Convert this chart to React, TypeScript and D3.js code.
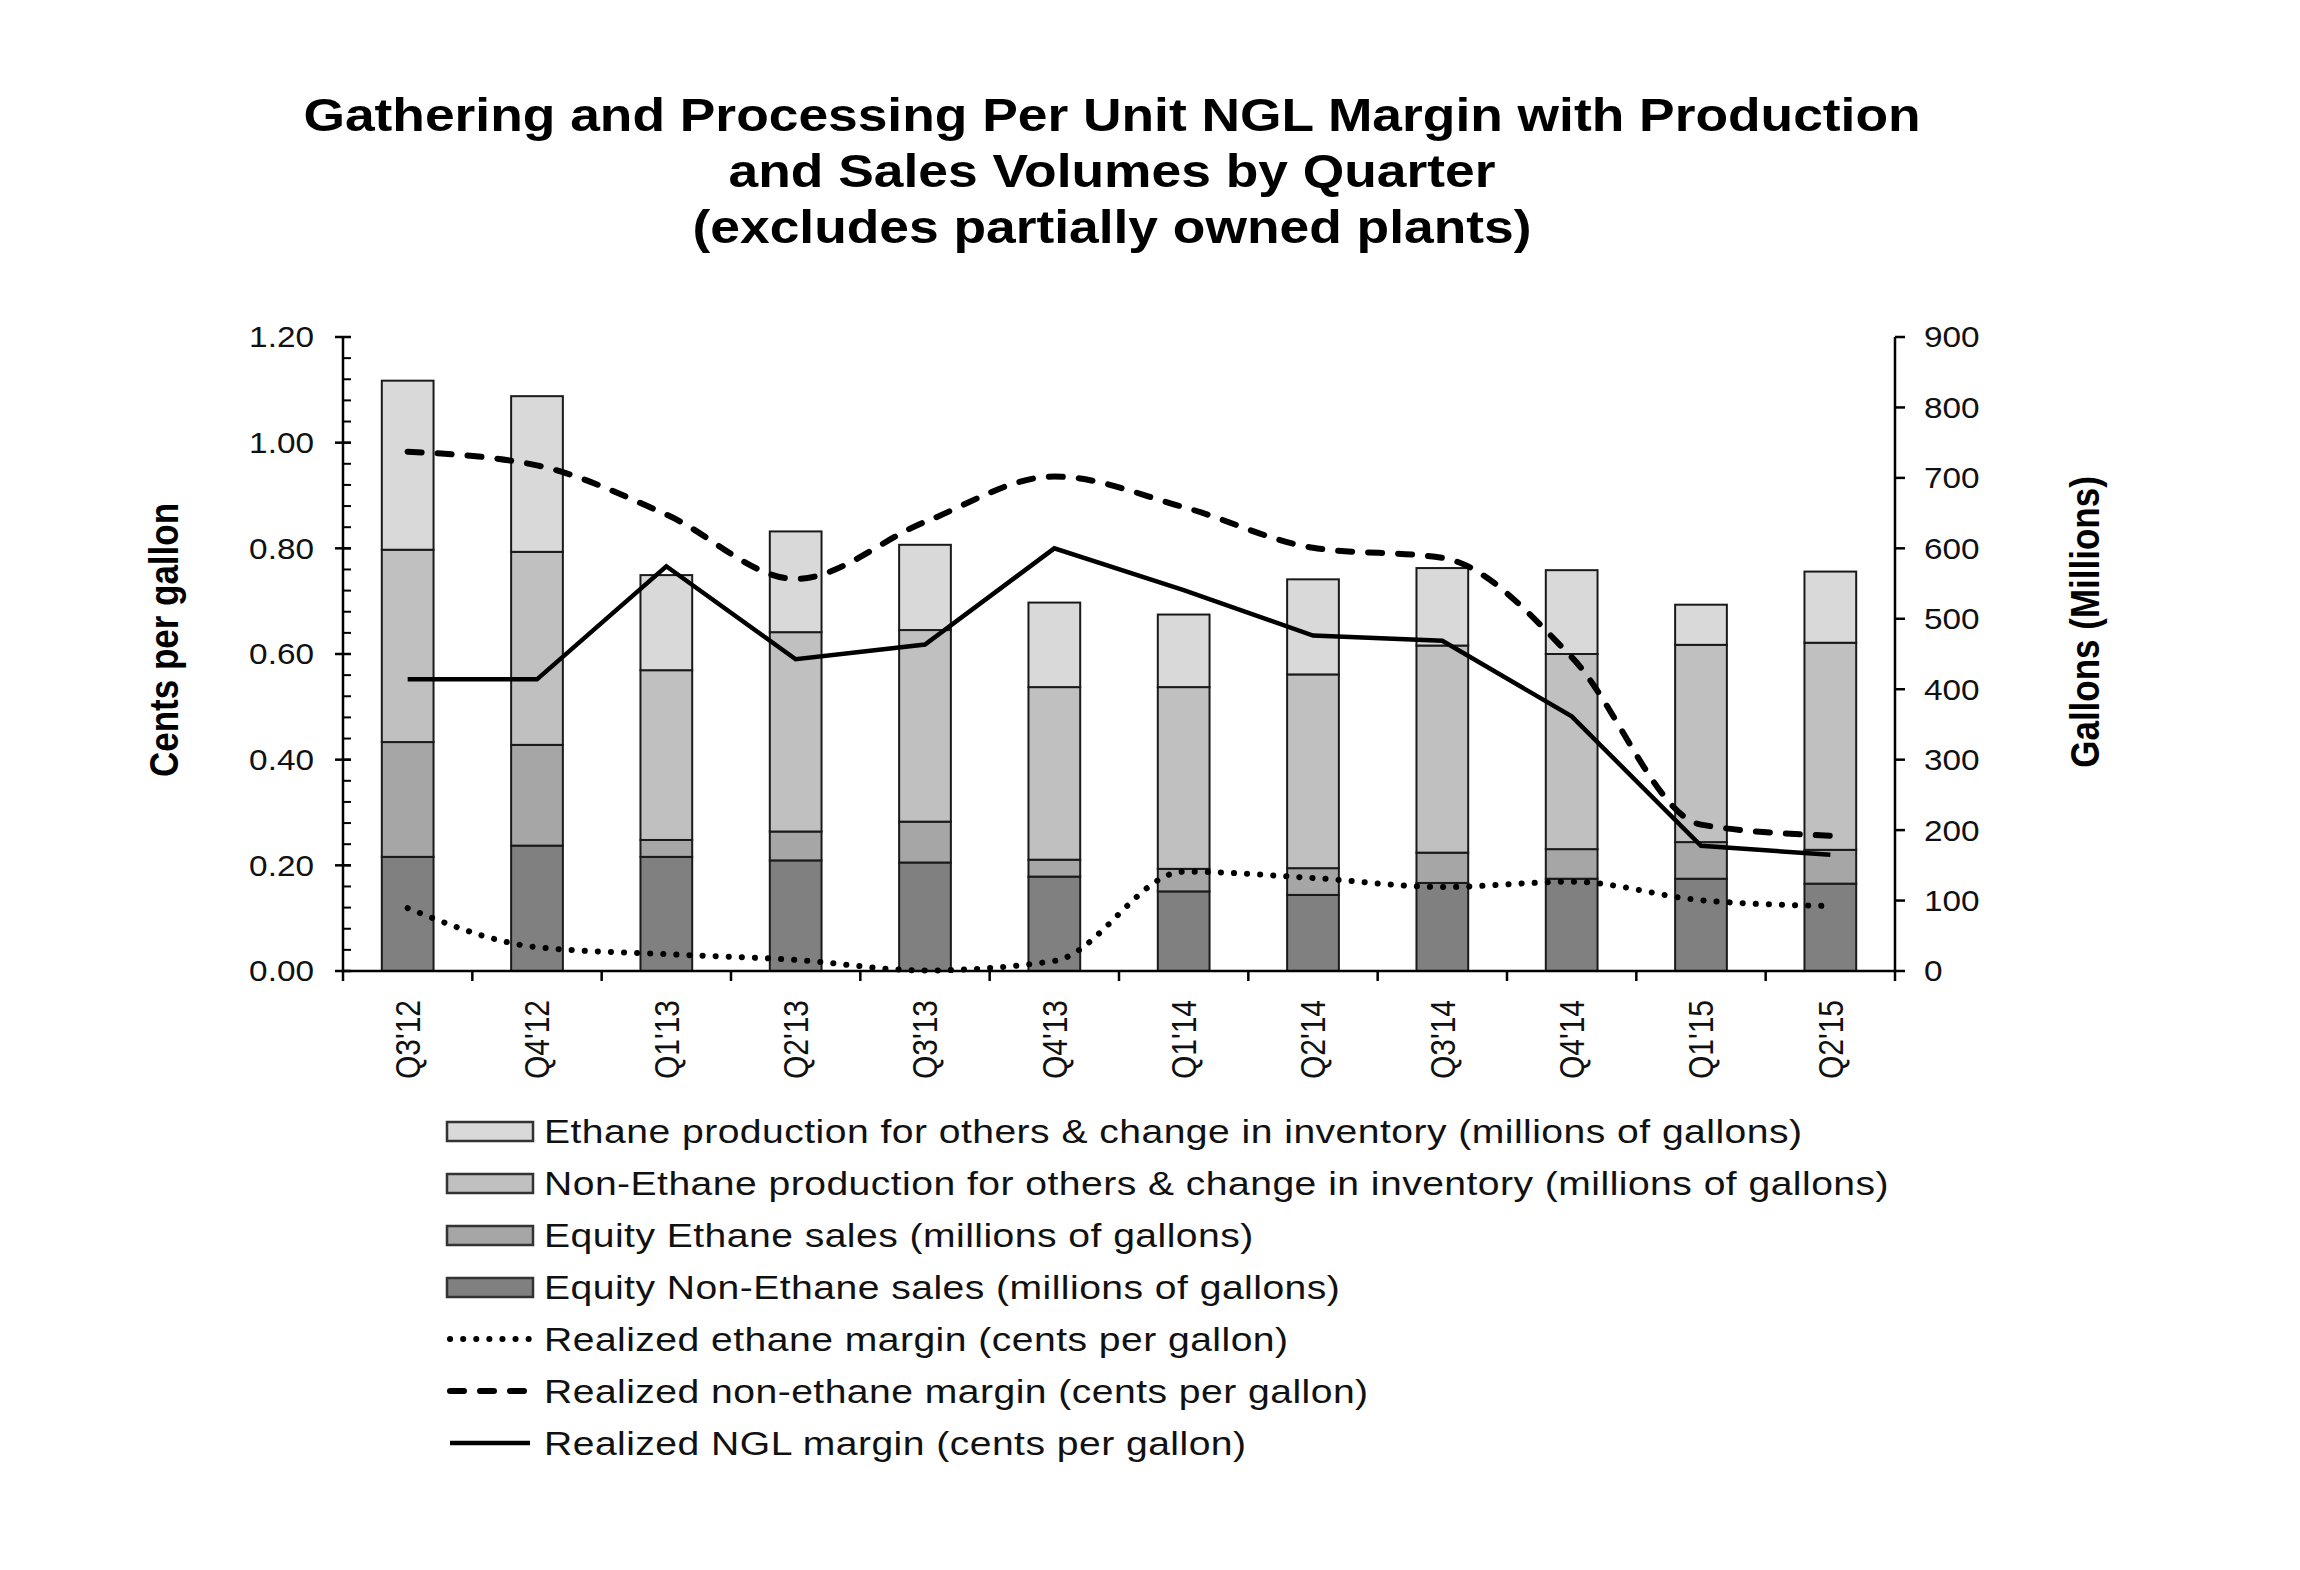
import { useEffect } from "react";
import * as d3 from "d3";

// quarters on the x axis
const quarters = ["Q3'12", "Q4'12", "Q1'13", "Q2'13", "Q3'13", "Q4'13", "Q1'14", "Q2'14", "Q3'14", "Q4'14", "Q1'15", "Q2'15"];

// stacked volumes, millions of gallons (bottom to top)
const equityNonEthane = [162, 178, 162, 157, 154, 134, 113, 108, 125, 131, 131, 124];
const equityEthane = [163, 143, 24, 41, 58, 24, 32, 38, 43, 42, 52, 48];
const nonEthaneOthers = [273, 274, 241, 283, 272, 245, 258, 275, 294, 277, 280, 294];
const ethaneOthers = [240, 221, 135, 143, 121, 120, 103, 135, 110, 119, 57, 101];

// margins, cents per gallon
const ethaneMargin = [0.119, 0.045, 0.032, 0.021, 0.001, 0.019, 0.188, 0.176, 0.159, 0.169, 0.134, 0.123];
const nonEthaneMargin = [0.983, 0.957, 0.864, 0.742, 0.85, 0.936, 0.878, 0.801, 0.782, 0.594, 0.277, 0.256];
const nglMargin = [0.552, 0.552, 0.766, 0.59, 0.618, 0.8, 0.721, 0.635, 0.625, 0.482, 0.237, 0.22];

const leftTicks = [0, 0.2, 0.4, 0.6, 0.8, 1.0, 1.2];
const rightTicks = [0, 100, 200, 300, 400, 500, 600, 700, 800, 900];

const barKeys = ["equityNonEthane", "equityEthane", "nonEthaneOthers", "ethaneOthers"];
const barColors: Record<string, string> = {
  equityNonEthane: "#808080",
  equityEthane: "#a6a6a6",
  nonEthaneOthers: "#c0c0c0",
  ethaneOthers: "#d9d9d9",
};

const legendBars = [
  { key: "ethaneOthers", label: "Ethane production for others & change in inventory (millions of gallons)" },
  { key: "nonEthaneOthers", label: "Non-Ethane production for others & change in inventory (millions of gallons)" },
  { key: "equityEthane", label: "Equity Ethane sales (millions of gallons)" },
  { key: "equityNonEthane", label: "Equity Non-Ethane sales (millions of gallons)" },
];

const FONT = "'Liberation Sans', Arial, Helvetica, sans-serif";
const SX = 1.15; // the source picture is stretched sideways

const W = 2300;
const H = 1570;
const left = 343;
const right = 1895;
const top = 337;
const bottom = 971;

export default function App() {
  useEffect(() => {
    document.body.style.margin = "0";
  }, []);

  const x = d3.scaleBand<string>().domain(quarters).range([left, right]).paddingInner(0.6).paddingOuter(0.3);
  const yL = d3.scaleLinear().domain([0, 1.2]).range([bottom, top]);
  const yR = d3.scaleLinear().domain([0, 900]).range([bottom, top]);

  const rows = quarters.map((q, i) => ({
    q,
    equityNonEthane: equityNonEthane[i],
    equityEthane: equityEthane[i],
    nonEthaneOthers: nonEthaneOthers[i],
    ethaneOthers: ethaneOthers[i],
  }));
  const stacked = d3.stack<any>().keys(barKeys)(rows);

  const cx = (i: number) => (x(quarters[i]) as number) + x.bandwidth() / 2;
  const smooth = d3.line<number>().x((_, i) => cx(i)).y((d) => yL(d)).curve(d3.curveMonotoneX);
  const straight = d3.line<number>().x((_, i) => cx(i)).y((d) => yL(d));

  const step = x.step();
  const boundaries = d3.range(quarters.length + 1).map((i) => left + i * step);
  const minorTicks = d3.range(31).map((i) => i * 0.04);

  const titleLines = [
    "Gathering and Processing Per Unit NGL Margin with Production",
    "and Sales Volumes by Quarter",
    "(excludes partially owned plants)",
  ];

  const legendX = 447;
  const legendTextX = 544;
  const legendBase = 1143;
  const legendStep = 52;

  const lineLegend = [
    { label: "Realized ethane margin (cents per gallon)", dash: "0.1 13", width: 6 },
    { label: "Realized non-ethane margin (cents per gallon)", dash: "14 16", width: 6 },
    { label: "Realized NGL margin (cents per gallon)", dash: "none", width: 4.5 },
  ];

  return (
    <svg width={W} height={H} viewBox={`0 0 ${W} ${H}`} style={{ display: "block", background: "#fff" }} fontFamily={FONT}>
      <rect width={W} height={H} fill="#fff" />

      {/* title */}
      {titleLines.map((t, i) => (
        <text
          key={t}
          transform={`translate(1112, ${131 + i * 56}) scale(1.16, 1)`}
          textAnchor="middle"
          fontSize={46}
          fontWeight="bold"
          fill="#000"
        >
          {t}
        </text>
      ))}

      {/* stacked bars */}
      {stacked.map((layer) => (
        <g key={layer.key}>
          {layer.map((d, i) => (
            <rect
              key={i}
              x={x(quarters[i])}
              y={yR(d[1])}
              width={x.bandwidth()}
              height={yR(d[0]) - yR(d[1])}
              fill={barColors[layer.key]}
              stroke="#1a1a1a"
              strokeWidth={2}
            />
          ))}
        </g>
      ))}

      {/* margin lines */}
      <path d={smooth(ethaneMargin) || ""} fill="none" stroke="#000" strokeWidth={6} strokeDasharray="0.1 13" strokeLinecap="round" />
      <path d={smooth(nonEthaneMargin) || ""} fill="none" stroke="#000" strokeWidth={6} strokeDasharray="14 16" strokeLinecap="round" />
      <path d={straight(nglMargin) || ""} fill="none" stroke="#000" strokeWidth={4.5} strokeLinejoin="miter" />

      {/* left axis */}
      <line x1={left} x2={left} y1={top} y2={bottom} stroke="#000" strokeWidth={2.5} />
      {minorTicks.map((v) => (
        <line key={`m${v}`} x1={left} x2={left + 8} y1={yL(v)} y2={yL(v)} stroke="#000" strokeWidth={2} />
      ))}
      {leftTicks.map((v) => (
        <g key={`l${v}`}>
          <line x1={left - 8} x2={left + 8} y1={yL(v)} y2={yL(v)} stroke="#000" strokeWidth={2.5} />
          <text transform={`translate(314, ${yL(v)}) scale(${SX}, 1)`} dy="0.36em" textAnchor="end" fontSize={29} fill="#111">
            {v.toFixed(2)}
          </text>
        </g>
      ))}

      {/* right axis */}
      <line x1={right} x2={right} y1={top} y2={bottom} stroke="#000" strokeWidth={2.5} />
      {rightTicks.map((v) => (
        <g key={`r${v}`}>
          <line x1={right} x2={right + 10} y1={yR(v)} y2={yR(v)} stroke="#000" strokeWidth={2.5} />
          <text transform={`translate(1924, ${yR(v)}) scale(${SX}, 1)`} dy="0.36em" textAnchor="start" fontSize={29} fill="#111">
            {v}
          </text>
        </g>
      ))}

      {/* x axis */}
      <line x1={left} x2={right} y1={bottom} y2={bottom} stroke="#000" strokeWidth={2.5} />
      {boundaries.map((b, i) => (
        <line key={`b${i}`} x1={b} x2={b} y1={bottom} y2={bottom + 10} stroke="#000" strokeWidth={2.5} />
      ))}
      {quarters.map((q, i) => (
        <text
          key={q}
          transform={`translate(${cx(i)}, 1000) scale(${SX}, 1) rotate(-90)`}
          dy="0.36em"
          textAnchor="end"
          fontSize={30}
          fill="#111"
        >
          {q}
        </text>
      ))}

      {/* axis titles */}
      <text transform={`translate(164, 640) scale(${SX}, 1) rotate(-90)`} dy="0.36em" textAnchor="middle" fontSize={35} fontWeight="bold">
        Cents per gallon
      </text>
      <text transform={`translate(2085, 622) scale(${SX}, 1) rotate(-90)`} dy="0.36em" textAnchor="middle" fontSize={35} fontWeight="bold">
        Gallons (Millions)
      </text>

      {/* legend */}
      {legendBars.map((l, i) => (
        <g key={l.key}>
          <rect
            x={legendX}
            y={legendBase + i * legendStep - 21}
            width={86}
            height={19}
            fill={barColors[l.key]}
            stroke="#333"
            strokeWidth={2.5}
          />
          <text transform={`translate(${legendTextX}, ${legendBase + i * legendStep}) scale(${SX}, 1)`} fontSize={34} letterSpacing={0.4} fill="#111">
            {l.label}
          </text>
        </g>
      ))}
      {lineLegend.map((l, j) => {
        const i = j + legendBars.length;
        const yy = legendBase + i * legendStep - 12;
        return (
          <g key={l.label}>
            <line
              x1={legendX + 3}
              x2={legendX + 83}
              y1={yy}
              y2={yy}
              stroke="#000"
              strokeWidth={l.width}
              strokeDasharray={l.dash}
              strokeLinecap={l.dash === "none" ? "butt" : "round"}
            />
            <text transform={`translate(${legendTextX}, ${legendBase + i * legendStep}) scale(${SX}, 1)`} fontSize={34} letterSpacing={0.4} fill="#111">
              {l.label}
            </text>
          </g>
        );
      })}
    </svg>
  );
}
